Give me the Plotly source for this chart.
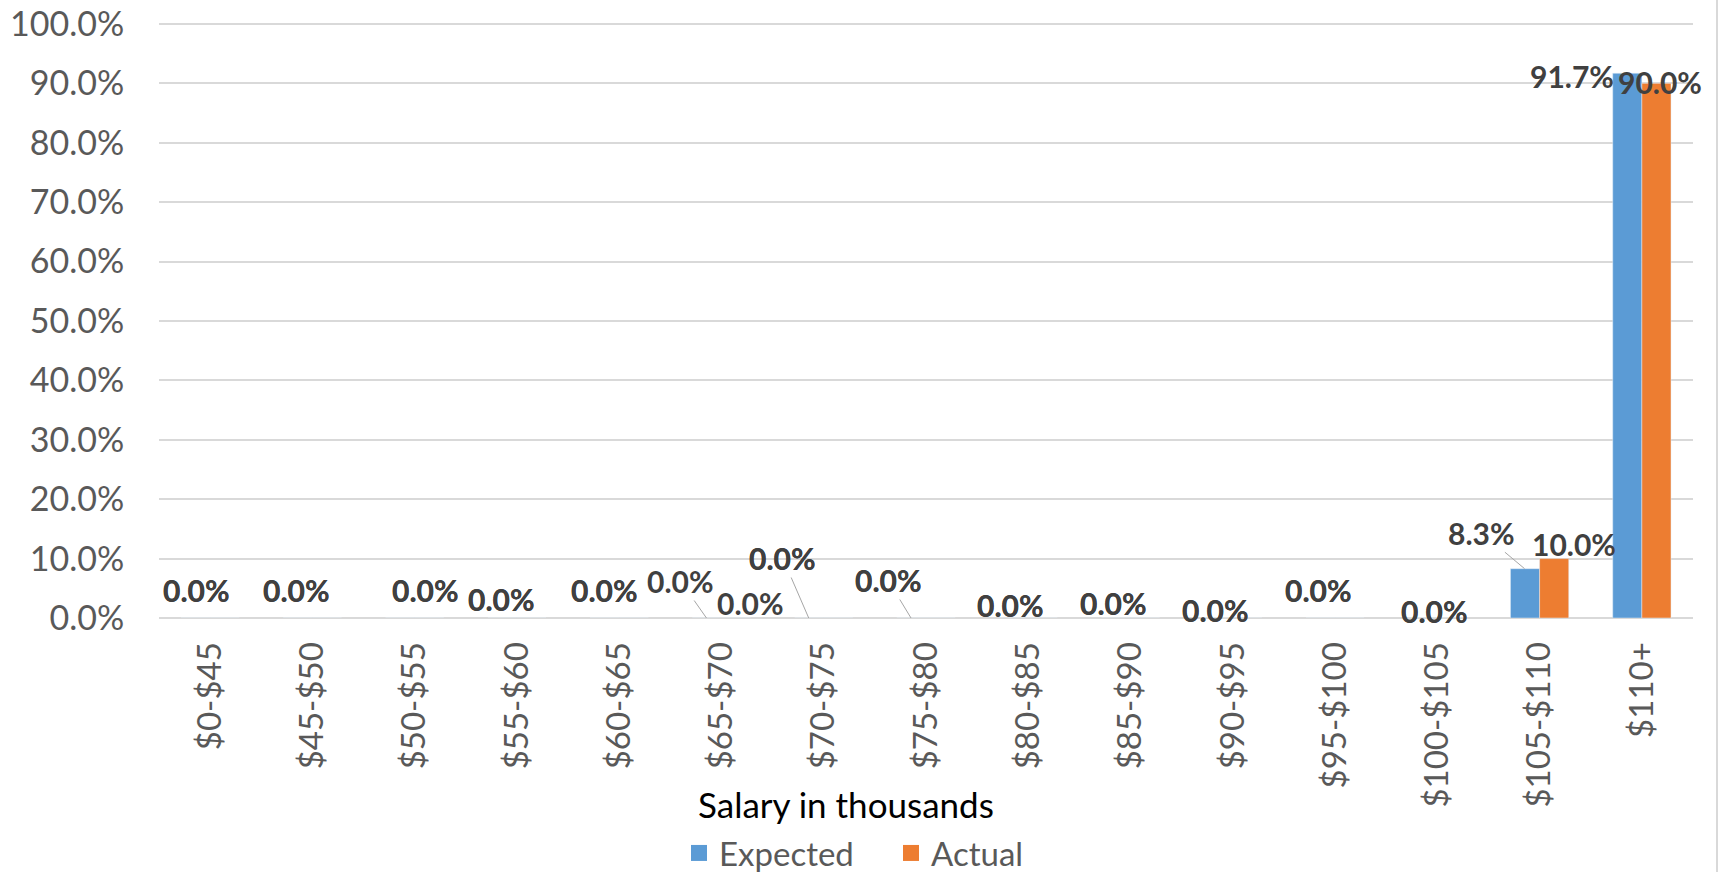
import plotly.graph_objects as go

categories = ["$0-$45", "$45-$50", "$50-$55", "$55-$60", "$60-$65", "$65-$70",
              "$70-$75", "$75-$80", "$80-$85", "$85-$90", "$90-$95", "$95-$100",
              "$100-$105", "$105-$110", "$110+"]
expected = [0.0, 0.0, 0.0, 0.0, 0.0, 0.0, 0.0, 0.0, 0.0, 0.0, 0.0, 0.0, 0.0, 0.083, 0.917]
actual = [0.0, 0.0, 0.0, 0.0, 0.0, 0.0, 0.0, 0.0, 0.0, 0.0, 0.0, 0.0, 0.0, 0.10, 0.90]

# label placement (pixel offsets from category centre / bar top), Excel-style
exp_dx = [-14, -16, 11, -15, -15, -41, -41, -38, -18, -17, -17, -17, -3, -58, -70]
exp_dy = [28, 28, 28, 19, 28, 37, 60, 38, 13, 15, 8, 28, 7, 36, -3]
exp_leader = [0, 0, 0, 0, 0, 1, 1, 1, 0, 0, 0, 0, 0, 1, 0]
act_dx = [-14, -16, 11, -15, -15, 29, -41, -38, -18, -17, -17, -17, -3, 34, 18]
act_dy = [28, 28, 28, 19, 28, 15, 60, 38, 13, 15, 8, 28, 7, 15, 1]

BLUE = "#5B9BD5"
ORANGE = "#ED7D31"
GRID = "#D9D9D9"
TICK = "#595959"
LABEL = "#404040"
FONT = "Lato"

W, H = 1722, 872
ML, MR, MT, MB = 159, 29, 21, 254
PW, PH = W - ML - MR, H - MT - MB

fig = go.Figure()
fig.add_trace(go.Bar(name="Expected", x=categories, y=expected, marker_color=BLUE,
                     showlegend=False, legendgroup="e"))
fig.add_trace(go.Bar(name="Actual", x=categories, y=actual, marker_color=ORANGE,
                     showlegend=False, legendgroup="a"))
# legend entries with larger square swatches
fig.add_trace(go.Scatter(name="Expected", x=[None], y=[None], mode="markers",
                         marker=dict(symbol="square", size=20, color=BLUE), legendgroup="e"))
fig.add_trace(go.Scatter(name="Actual", x=[None], y=[None], mode="markers",
                         marker=dict(symbol="square", size=20, color=ORANGE), legendgroup="a"))

BAR_OFF = 15
annotations = []
for i, c in enumerate(categories):
    for vals, dxs, dys, leaders, off in ((expected, exp_dx, exp_dy, exp_leader, -BAR_OFF),
                                         (actual, act_dx, act_dy, [0] * len(categories), BAR_OFF)):
        v = vals[i]
        txt = f"{v * 100:.1f}%"
        common = dict(x=c, y=v, xref="x", yref="y", text=txt,
                      font=dict(family=FONT, size=30, color=LABEL, weight="bold"))
        if leaders[i]:
            annotations.append(dict(**common, showarrow=True, arrowhead=0, arrowwidth=1,
                                    arrowcolor="#A6A6A6", xshift=off,
                                    ax=dxs[i] - off, ay=-dys[i]))
        else:
            annotations.append(dict(**common, showarrow=False, xshift=dxs[i], yshift=dys[i]))

annotations.append(dict(text="Salary in thousands", x=(846 - ML) / PW,
                        y=-(804 - (H - MB)) / PH, yanchor="middle",
                        xref="paper", yref="paper", showarrow=False,
                        font=dict(family=FONT, size=35, color="#000000")))

fig.update_layout(
    width=W, height=H,
    margin=dict(l=ML, r=MR, t=MT, b=MB, autoexpand=False),
    plot_bgcolor="white", paper_bgcolor="white",
    barmode="group", bargap=0.43, bargroupgap=0,
    font=dict(family=FONT, color=TICK),
    showlegend=True,
    legend=dict(orientation="h", xref="paper", yref="paper",
                x=(891 - ML) / PW, xanchor="center",
                y=-(853 - (H - MB)) / PH, yanchor="middle",
                itemsizing="trace", entrywidth=167,
                font=dict(family=FONT, size=33, color=TICK)),
    annotations=annotations,
    shapes=[dict(type="line", xref="paper", yref="paper",
                 x0=(1717 - ML) / PW, x1=(1717 - ML) / PW,
                 y0=-MB / PH, y1=1 + MT / PH,
                 line=dict(color="#D9D9D9", width=2))],
)
fig.update_yaxes(range=[0, 1.005], dtick=0.1, tickformat=".1%", showgrid=True,
                 gridcolor=GRID, gridwidth=1.5, zeroline=True, zerolinecolor=GRID,
                 zerolinewidth=1.5, showline=False, ticklabeloverflow="allow",
                 ticks="outside", ticklen=27, tickcolor="rgba(0,0,0,0)",
                 tickfont=dict(family=FONT, size=34, color=TICK))
fig.update_xaxes(range=[-0.5, len(categories) - 0.5], tickangle=-90,
                 showgrid=False, showline=False,
                 ticks="outside", ticklen=10, tickcolor="rgba(0,0,0,0)",
                 tickfont=dict(family=FONT, size=33, color=TICK))

fig.write_html("out.html", config={"displayModeBar": False},
               post_script="document.body.style.margin='0';")
